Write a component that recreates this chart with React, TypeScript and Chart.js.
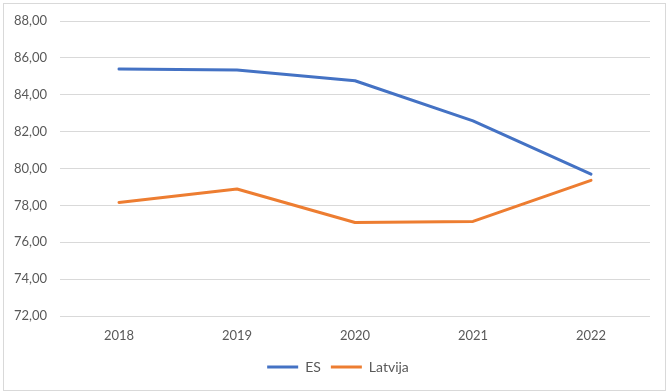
import React, { useEffect, useRef } from "react";
import { Chart, registerables } from "chart.js";

Chart.register(...registerables);

const categories = ["2018", "2019", "2020", "2021", "2022"];
const esValues = [85.4, 85.34, 84.76, 82.58, 79.69];
const latvijaValues = [78.16, 78.89, 77.07, 77.13, 79.36];
const yMin = 72;
const yMax = 88;
const yStep = 2;

const shiftLegend = {
  id: "shiftLegend",
  afterLayout(chart: any) {
    if (chart.legend) {
      chart.legend.left += 13;
      chart.legend.right += 13;
    }
  },
};

export default function App() {
  const ref = useRef<HTMLCanvasElement | null>(null);

  useEffect(() => {
    document.body.style.margin = "0";
    const ctx = ref.current;
    if (!ctx) return;
    const font = { family: "Lato, 'Open Sans', sans-serif", size: 13 };
    const chart = new Chart(ctx, {
      type: "line",
      plugins: [shiftLegend],
      data: {
        labels: categories,
        datasets: [
          {
            label: "ES",
            data: esValues,
            borderColor: "#4472C4",
            backgroundColor: "#4472C4",
            borderWidth: 3,
            pointRadius: 0,
            tension: 0,
            borderCapStyle: "round",
            borderJoinStyle: "round",
          },
          {
            label: "Latvija",
            data: latvijaValues,
            borderColor: "#ED7D31",
            backgroundColor: "#ED7D31",
            borderWidth: 3,
            pointRadius: 0,
            tension: 0,
            borderCapStyle: "round",
            borderJoinStyle: "round",
          },
        ],
      },
      options: {
        animation: false,
        responsive: false,
        maintainAspectRatio: false,
        layout: { padding: { top: 21, right: 20, bottom: 8, left: 0 } },
        plugins: {
          tooltip: { enabled: false },
          legend: {
            position: "bottom",
            labels: {
              font: { family: "Lato, 'Open Sans', sans-serif", size: 14 },
              color: "#595959",
              boxWidth: 31,
              boxHeight: 3,
              padding: 10,
              generateLabels: (c: any) =>
                c.data.datasets.map((d: any, i: number) => ({
                  text: d.label,
                  fillStyle: d.borderColor,
                  strokeStyle: d.borderColor,
                  lineWidth: 0,
                  fontColor: "#595959",
                  datasetIndex: i,
                  hidden: false,
                })),
            },
          },
        },
        scales: {
          x: {
            offset: true,
            grid: { display: false, drawTicks: false },
            border: { display: false },
            ticks: { font, color: "#595959", padding: 12 },
            afterFit: (s: any) => {
              s.height = 34;
            },
          },
          y: {
            min: yMin,
            max: yMax,
            grid: { color: "#d9d9d9", lineWidth: 1, drawTicks: false },
            border: { display: false },
            ticks: {
              font,
              color: "#595959",
              padding: 13,
              stepSize: yStep,
              callback: (v: any) => Number(v).toFixed(2).replace(".", ","),
            },
            afterFit: (s: any) => {
              s.width = 60;
            },
          },
        },
      },
    });
    return () => chart.destroy();
  }, []);

  return (
    <div style={{ position: "relative", width: 670, height: 392, background: "#fff" }}>
      <div
        style={{
          position: "absolute",
          left: 3,
          top: 3,
          width: 661,
          height: 386,
          border: "1px solid #d9d9d9",
          boxSizing: "content-box",
          pointerEvents: "none",
        }}
      />
      <canvas ref={ref} width={670} height={392} style={{ display: "block", width: 670, height: 392 }} />
    </div>
  );
}
